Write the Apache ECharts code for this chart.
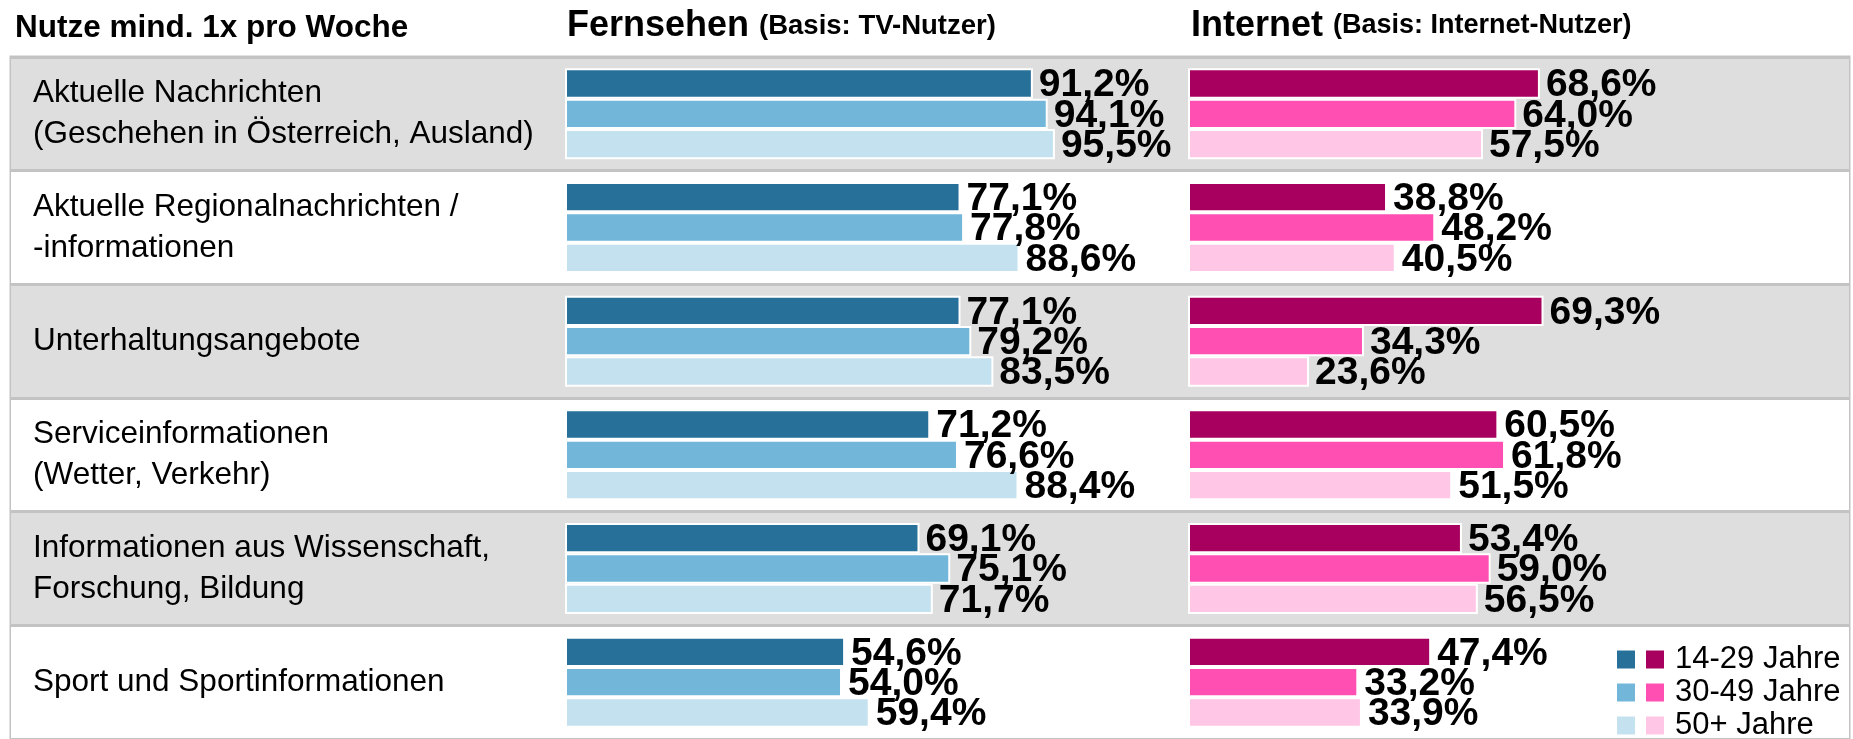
<!DOCTYPE html>
<html>
<head>
<meta charset="utf-8">
<script src="https://cdn.jsdelivr.net/npm/echarts@6/dist/echarts.min.js"></script>
<style>
  html, body { margin: 0; padding: 0; background: #fff; }
  #main { width: 1853px; height: 739px; }
</style>
</head>
<body>
<div id="main"></div>
<script>
var categories = [
  'Aktuelle Nachrichten\n(Geschehen in Österreich, Ausland)',
  'Aktuelle Regionalnachrichten /\n-informationen',
  'Unterhaltungsangebote',
  'Serviceinformationen\n(Wetter, Verkehr)',
  'Informationen aus Wissenschaft,\nForschung, Bildung',
  'Sport und Sportinformationen'
]
var ageGroups = ['14-29 Jahre', '30-49 Jahre', '50+ Jahre']
var tv1429 = [91.2, 77.1, 77.1, 71.2, 69.1, 54.6]
var tv3049 = [94.1, 77.8, 79.2, 76.6, 75.1, 54.0]
var tv50 = [95.5, 88.6, 83.5, 88.4, 71.7, 59.4]
var web1429 = [68.6, 38.8, 69.3, 60.5, 53.4, 47.4]
var web3049 = [64.0, 48.2, 34.3, 61.8, 59.0, 33.2]
var web50 = [57.5, 40.5, 23.6, 51.5, 56.5, 33.9]

var tvColors = ['#26709a', '#72b6da', '#c4e1ef']
var webColors = ['#a8005e', '#ff4fb3', '#ffc6e5']
var font = 'Liberation Sans, Arial, sans-serif'

var top0 = 57
var rowH = 114.7
var gridH = rowH * categories.length

function pct (p) {
  return p.value.toFixed(1).replace('.', ',') + '%'
}

function barSeries (name, data, color, idx) {
  return {
    name: name,
    type: 'bar',
    xAxisIndex: idx,
    yAxisIndex: idx,
    data: data,
    barGap: '0%',
    barCategoryGap: '20%',
    itemStyle: { color: color, borderColor: '#fff', borderWidth: 2 },
    label: {
      show: true,
      position: 'right',
      distance: 6,
      offset: [0, 2],
      formatter: pct,
      color: '#000',
      fontFamily: font,
      fontWeight: 'bold',
      fontSize: 39
    },
    animation: false
  }
}

var legendText = { fontFamily: font, fontSize: 31, lineHeight: 33, color: '#000', padding: [0, 0, 0, 5] }

var chart = echarts.init(document.getElementById('main'))
chart.setOption({
  animation: false,
  title: [
    {
      text: 'Nutze mind. 1x pro Woche',
      left: 10, top: 7,
      textStyle: { fontFamily: font, fontWeight: 'bold', fontSize: 31.5, color: '#000' }
    },
    {
      text: '{a|Fernsehen}  {b|(Basis: TV-Nutzer)}',
      left: 562, top: 3,
      textStyle: {
        rich: {
          a: { fontFamily: font, fontWeight: 'bold', fontSize: 36, color: '#000' },
          b: { fontFamily: font, fontWeight: 'bold', fontSize: 27.5, color: '#000' }
        }
      }
    },
    {
      text: '{a|Internet}  {b|(Basis: Internet-Nutzer)}',
      left: 1186, top: 3,
      textStyle: {
        rich: {
          a: { fontFamily: font, fontWeight: 'bold', fontSize: 36, color: '#000' },
          b: { fontFamily: font, fontWeight: 'bold', fontSize: 27, color: '#000' }
        }
      }
    }
  ],
  legend: [
    {
      data: ageGroups.map(function (g) { return 'TV ' + g }),
      orient: 'vertical',
      left: 1610, top: 638, height: 120,
      itemWidth: 20, itemHeight: 20, itemGap: 0,
      icon: 'rect',
      formatter: function () { return ' ' },
      textStyle: legendText
    },
    {
      data: ageGroups,
      orient: 'vertical',
      left: 1639, top: 638, height: 120,
      itemWidth: 20, itemHeight: 20, itemGap: 0,
      icon: 'rect',
      textStyle: legendText
    }
  ],
  grid: [
    {
      left: 11, top: top0, width: 1838, height: gridH,
      show: true, borderColor: '#c3c3c3', borderWidth: 3, backgroundColor: 'transparent'
    },
    { left: 565, top: top0, width: 513, height: gridH },
    { left: 1188, top: top0, width: 513, height: gridH }
  ],
  xAxis: [
    { gridIndex: 0, type: 'value', min: 0, max: 1, show: false },
    { gridIndex: 1, type: 'value', min: 0, max: 100, show: false },
    { gridIndex: 2, type: 'value', min: 0, max: 100, show: false }
  ],
  yAxis: [
    {
      gridIndex: 0,
      type: 'category',
      inverse: true,
      data: categories,
      axisLine: { show: false },
      axisTick: { show: false },
      axisLabel: {
        inside: true,
        margin: 22,
        fontFamily: font,
        fontSize: 31.5,
        lineHeight: 41,
        padding: [16, 0, 0, 0],
        color: '#000'
      },
      splitLine: { show: true, lineStyle: { color: '#c3c3c3', width: 3 } },
      splitArea: { show: true, areaStyle: { color: ['#dedede', '#ffffff'] } }
    },
    { gridIndex: 1, type: 'category', inverse: true, data: categories, show: false },
    { gridIndex: 2, type: 'category', inverse: true, data: categories, show: false }
  ],
  series: [
    barSeries('TV ' + ageGroups[0], tv1429, tvColors[0], 1),
    barSeries('TV ' + ageGroups[1], tv3049, tvColors[1], 1),
    barSeries('TV ' + ageGroups[2], tv50, tvColors[2], 1),
    barSeries(ageGroups[0], web1429, webColors[0], 2),
    barSeries(ageGroups[1], web3049, webColors[1], 2),
    barSeries(ageGroups[2], web50, webColors[2], 2)
  ]
})
</script>
</body>
</html>
